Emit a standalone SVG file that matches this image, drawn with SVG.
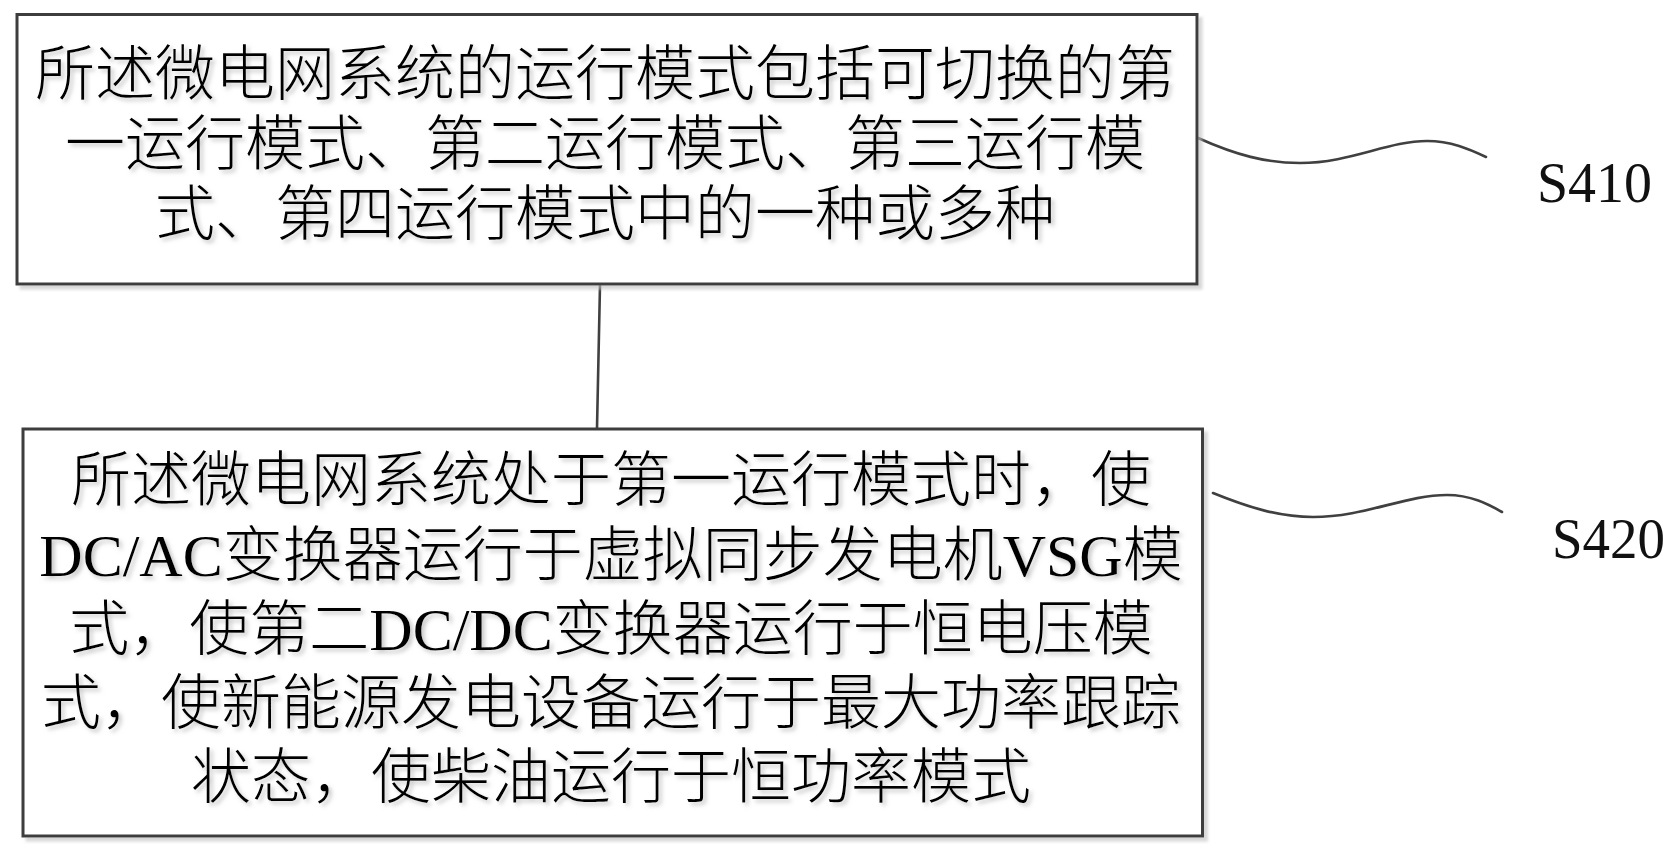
<svg xmlns="http://www.w3.org/2000/svg" width="1679" height="856" viewBox="0 0 1679 856">
<defs>
<filter id="ts" x="-5%" y="-20%" width="110%" height="150%">
<feDropShadow dx="3" dy="3" stdDeviation="2.2" flood-color="#9a9a9a" flood-opacity="0.55"/>
</filter>
<filter id="bs" x="-2%" y="-2%" width="104%" height="106%">
<feDropShadow dx="4" dy="4" stdDeviation="1.5" flood-color="#bdbdbd" flood-opacity="0.6"/>
</filter>
</defs>
<style>
.box{fill:#ffffff;stroke:#3d3d3d;stroke-width:3}
.t{font-family:"Liberation Serif","Noto Sans CJK SC",serif;font-size:60px;font-weight:300;fill:#000;text-anchor:middle}
.lat{font-weight:400}
.lbl{font-family:"Liberation Serif","Noto Sans CJK SC",serif;font-size:58px;fill:#111}
.wire{fill:none;stroke:#404040;stroke-width:2.6;stroke-linecap:round}
</style>
<rect width="1679" height="856" fill="#ffffff"/>
<g id="connectors">
<path class="wire" d="M600,285 L597,428"/>
<path class="wire" d="M1198,138 C1236,155 1266,163 1300,163 C1350,163 1388,141 1427,141 C1451,141 1469,149 1486,157"/>
<path class="wire" d="M1213,493 C1250,508 1280,517 1313,517 C1365,517 1405,495 1447,495 C1471,495 1488,504 1502,512"/>
</g>
<g id="node-s410">
<rect class="box" x="17" y="14.5" width="1180" height="269.5" filter="url(#bs)"/>
<g filter="url(#ts)">
<text class="t" x="605" y="95">所述微电网系统的运行模式包括可切换的第</text>
<text class="t" x="605" y="165">一运行模式、第二运行模式、第三运行模</text>
<text class="t" x="605" y="235">式、第四运行模式中的一种或多种</text>
</g>
</g>
<g id="node-s420">
<rect class="box" x="23" y="429" width="1179.5" height="407" filter="url(#bs)"/>
<g filter="url(#ts)">
<text class="t" x="611" y="501">所述微电网系统处于第一运行模式时，使</text>
<text class="t" x="611" y="576"><tspan class="lat">DC/AC</tspan>变换器运行于虚拟同步发电机<tspan class="lat">VSG</tspan>模</text>
<text class="t" x="611" y="650">式，使第二<tspan class="lat">DC/DC</tspan>变换器运行于恒电压模</text>
<text class="t" x="611" y="724">式，使新能源发电设备运行于最大功率跟踪</text>
<text class="t" x="611" y="798">状态，使柴油运行于恒功率模式</text>
</g>
</g>
<g id="label-s410">
<text class="lbl" x="1537" y="202" textLength="115" lengthAdjust="spacingAndGlyphs">S410</text>
</g>
<g id="label-s420">
<text class="lbl" x="1552" y="558" textLength="113" lengthAdjust="spacingAndGlyphs">S420</text>
</g>
</svg>
